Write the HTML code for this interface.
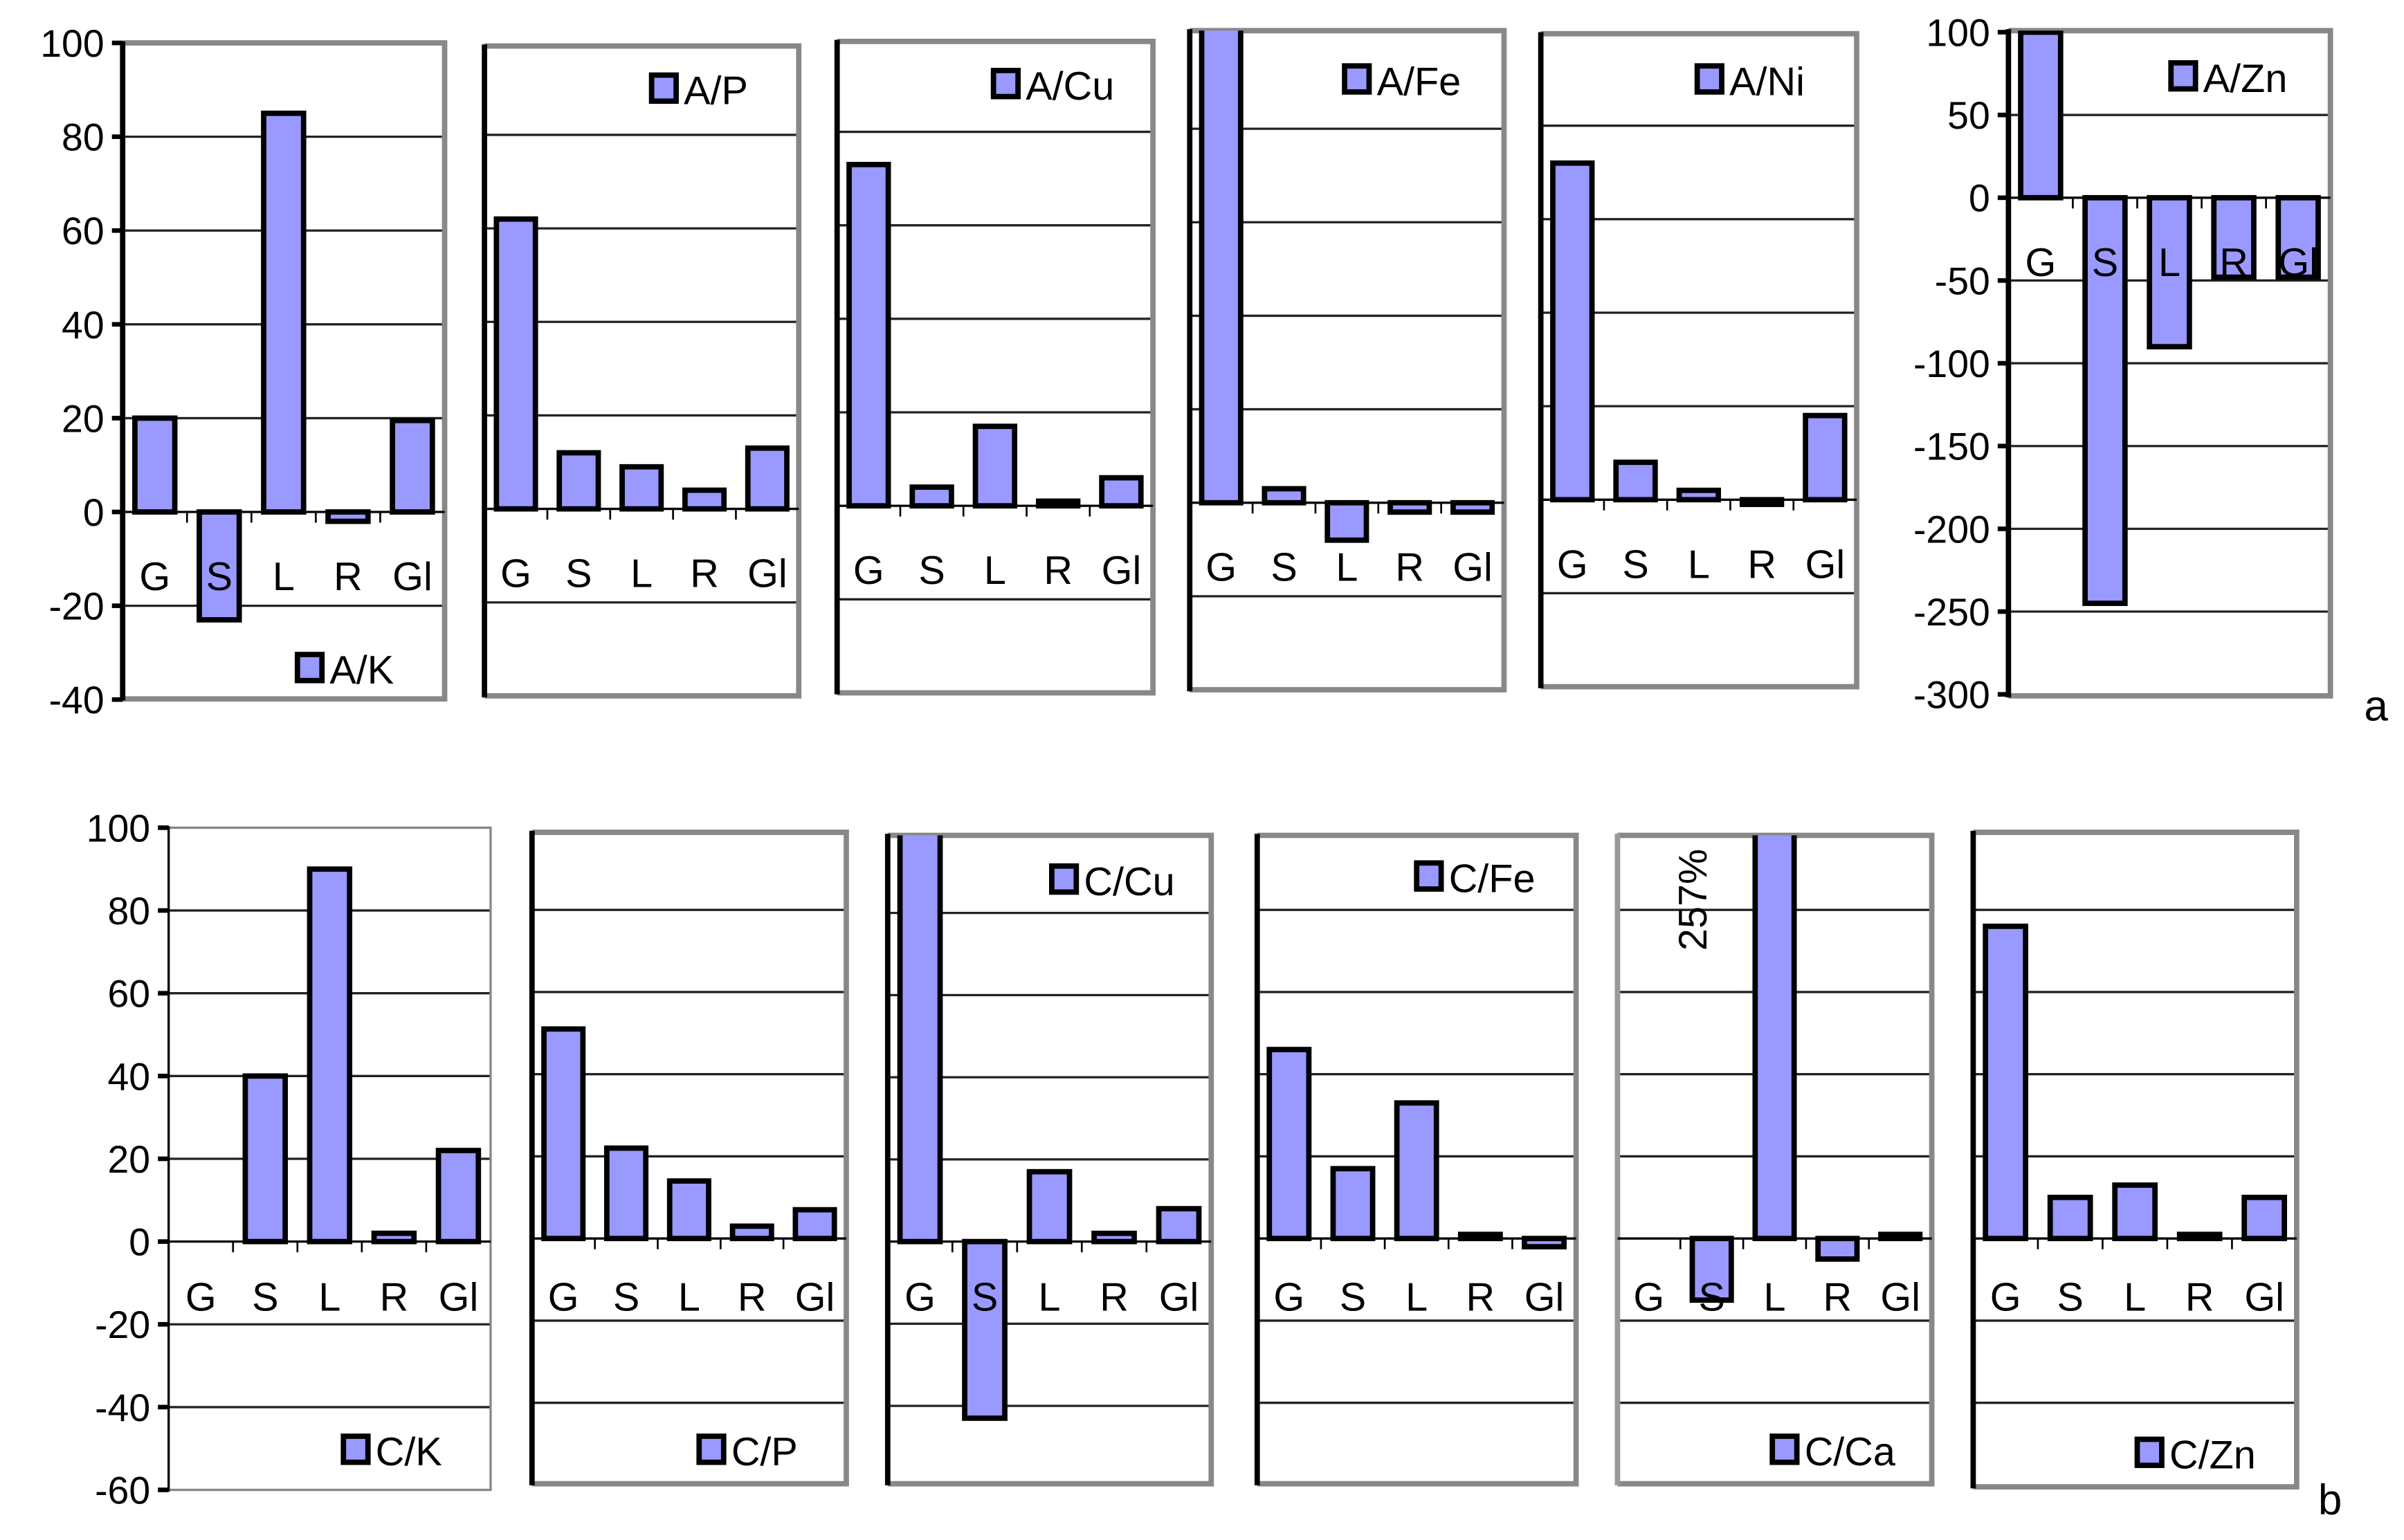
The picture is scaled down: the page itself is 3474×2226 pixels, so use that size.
<!DOCTYPE html>
<html><head><meta charset="utf-8"><style>
html,body{margin:0;padding:0;background:#fff}
svg{display:block}
text{font-family:"Liberation Sans",sans-serif}
</style></head><body>
<svg id="chart" xmlns="http://www.w3.org/2000/svg" width="3474" height="2226" viewBox="0 0 1568 1004.7" preserveAspectRatio="none"></svg>
<script>
const categories = ["G","S","L","R","Gl"];
const valsAK = [20,-23,85,-2,19.5];
const valsAP = [62,12,9,4,13];
const valsACu = [73,4,17,1,6];
const valsAFe = [110,3,-8,-2,-2];
const valsANi = [72,8,2,-1,18];
const valsAZn = [100,-245,-90,-48,-48];
const valsCK = [0,40,90,2,22];
const valsCP = [51,22,14,3,7];
const valsCCu = [110,-43,17,2,8];
const valsCFe = [46,17,33,1,-2];
const valsCCa = [0,-15,257,-5,1];
const valsCZn = [76,10,13,1,10];
const ticksA = ["100","80","60","40","20","0","-20","-40"];
const ticksAZn = ["100","50","0","-50","-100","-150","-200","-250","-300"];
const ticksC = ["100","80","60","40","20","0","-20","-40","-60"];

const panels = [
 {id:"a-k",name:"A/K",vals:valsAK,x0:80,x1:290,top:28,bot:456,zero:334,ppu:3.06,step:20,vmax:100,vmin:-40,leg:"bot",legY:436,ticks:ticksA,lab:376},
 {id:"a-p",name:"A/P",vals:valsAP,x0:316,x1:521,top:30,bot:454,zero:332,ppu:3.05,step:20,vmax:100,vmin:-40,leg:"top",legY:58,lab:374},
 {id:"a-cu",name:"A/Cu",vals:valsACu,x0:546,x1:752,top:27,bot:452,zero:330,ppu:3.05,step:20,vmax:100,vmin:-40,leg:"top",legY:55,lab:372},
 {id:"a-fe",name:"A/Fe",vals:valsAFe,x0:776,x1:981,top:20,bot:450,zero:328,ppu:3.05,step:20,vmax:100,vmin:-40,leg:"top",legY:52,lab:370},
 {id:"a-ni",name:"A/Ni",vals:valsANi,x0:1005,x1:1211,top:22,bot:448,zero:326,ppu:3.05,step:20,vmax:100,vmin:-40,leg:"top",legY:52,lab:368},
 {id:"a-zn",name:"A/Zn",vals:valsAZn,x0:1310,x1:1520,top:20,bot:454,zero:129,ppu:1.08,step:50,vmax:100,vmin:-300,leg:"top",legY:50,ticks:ticksAZn,lab:171},
 {id:"c-k",name:"C/K",vals:valsCK,x0:110,x1:320,top:540,bot:972,zero:810,ppu:2.7,step:20,vmax:100,vmin:-60,leg:"bot",legY:946,ticks:ticksC,lab:846},
 {id:"c-p",name:"C/P",vals:valsCP,x0:347,x1:552,top:543,bot:968,zero:808,ppu:2.68,step:20,vmax:100,vmin:-60,leg:"bot",legY:946,lab:846},
 {id:"c-cu",name:"C/Cu",vals:valsCCu,x0:579,x1:790,top:545,bot:968,zero:810,ppu:2.68,step:20,vmax:100,vmin:-60,leg:"top",legY:574,lab:846},
 {id:"c-fe",name:"C/Fe",vals:valsCFe,x0:820,x1:1028,top:545,bot:968,zero:808,ppu:2.68,step:20,vmax:100,vmin:-60,leg:"top",legY:572,lab:846},
 {id:"c-ca",name:"C/Ca",vals:valsCCa,x0:1055,x1:1260,top:545,bot:968,zero:808,ppu:2.68,step:20,vmax:100,vmin:-60,leg:"bot",legY:946,lab:846,note:"257%"},
 {id:"c-zn",name:"C/Zn",vals:valsCZn,x0:1287,x1:1498,top:543,bot:970,zero:808,ppu:2.68,step:20,vmax:100,vmin:-60,leg:"bot",legY:948,lab:846}
];
const NS="http://www.w3.org/2000/svg";
const svg=document.getElementById('chart');
function mk(tag,attrs,parent){const e=document.createElementNS(NS,tag);for(const k in attrs)e.setAttribute(k,attrs[k]);(parent||svg).appendChild(e);return e;}
const defs=mk('defs',{});
panels.forEach((p,pi)=>{
  const g=mk('g',{});
  
  
  const y=v=>p.zero-v*p.ppu;
  const cp=mk('clipPath',{id:'clip'+pi},defs);
  mk('rect',{x:p.x0,y:p.top,width:p.x1-p.x0,height:p.bot-p.top},cp);
  for(let v=p.vmax;v>=p.vmin;v-=p.step){
    const yy=y(v);
    if(yy<=p.top+3||yy>=p.bot-3||v===0)continue;
    const l=mk('line',{x1:p.x0,x2:p.x1,y1:yy,y2:yy,stroke:'#222','stroke-width':1.5},g);
    
    
  }
  const fr=mk('path',{d:`M${p.x0},${p.top} H${p.x1} V${p.bot} H${p.x0}`,fill:'none',stroke:'#888','stroke-width':p.id==='c-k'?1.5:3.5},g);
  
  
  const ax=mk('line',{x1:p.x0,x2:p.x0,y1:p.top-1,y2:p.bot+1,stroke:p.id==='c-ca'?'#999':'#000','stroke-width':p.id==='c-k'?1.5:3.5},g);
  
  
  const z=mk('line',{x1:p.x0,x2:p.x1,y1:p.zero,y2:p.zero,stroke:'#000','stroke-width':1.5},g);
  
  
  const slot=(p.x1-p.x0)/5;
  for(let i=1;i<5;i++){mk('line',{x1:p.x0+slot*i,x2:p.x0+slot*i,y1:p.zero,y2:p.zero+7,stroke:'#000','stroke-width':1.2},g);}
  if(p.ticks){
    p.ticks.forEach(t=>{
      const v=parseFloat(t);const yy=y(v);
      mk('line',{x1:p.x0-7,x2:p.x0,y1:yy,y2:yy,stroke:'#000','stroke-width':3},g);
      const tx=mk('text',{x:p.x0-12,y:yy+9,'font-size':25,'text-anchor':'end',fill:'#000'},g);
      tx.textContent=t;
      
      
    });
  }
  const bg=mk('g',{'clip-path':`url(#clip${pi})`},g);
  const bw=slot*0.62;
  p.vals.forEach((v,i)=>{
    if(v===0)return;
    const cx=p.x0+slot*(i+0.5);
    const y1=Math.min(y(v),p.zero),y2=Math.max(y(v),p.zero);
    const r=mk('rect',{x:cx-bw/2,y:y1,width:bw,height:Math.max(y2-y1,2),fill:'#9999ff',stroke:'#000','stroke-width':3.5},bg);
    
    
  });
  categories.forEach((c,i)=>{
    const t=mk('text',{x:p.x0+slot*(i+0.5),y:p.lab+9,'font-size':26,'text-anchor':'middle',fill:'#000'},g);
    t.textContent=c;
    
    
  });
  const lx=p.x1-(p.name.length>3?104:96);
  const lr=mk('rect',{x:lx,y:p.legY-9,width:16,height:17,fill:'#9999ff',stroke:'#000','stroke-width':3.5},g);
  
  
  const lt=mk('text',{x:lx+21,y:p.legY+10,'font-size':26,fill:'#000'},g);
  lt.textContent=p.name;
  
  
  if(p.note){
    const nt=mk('text',{x:0,y:0,'font-size':26,'text-anchor':'middle',transform:`translate(${p.x0+58},${p.top+42}) rotate(-90)`,fill:'#000'},g);
    nt.textContent=p.note;
    
    
  }
});
const ta=mk('text',{x:1542,y:470,'font-size':28,'font-family':'Liberation Serif'});ta.textContent='a';


const tb=mk('text',{x:1512,y:988,'font-size':28,'font-family':'Liberation Serif'});tb.textContent='b';


</script>
</body></html>
